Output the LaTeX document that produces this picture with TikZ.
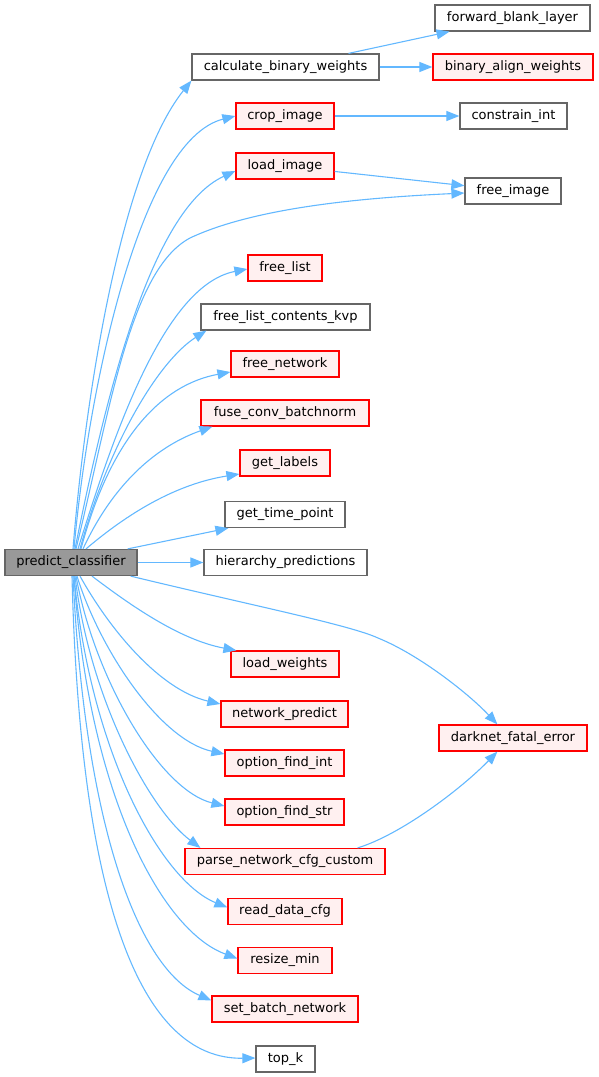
\documentclass[tikz,border=0pt]{standalone}
\usepackage{fontspec}
\setmainfont{DejaVu Sans}
\usetikzlibrary{arrows.meta,calc}
\definecolor{edgec}{HTML}{63B8FF}
\definecolor{nodegray}{HTML}{666666}
\definecolor{maingray}{HTML}{999999}
\definecolor{redfill}{HTML}{FFF0F0}
\definecolor{redline}{HTML}{FF0000}
\begin{document}
\begin{tikzpicture}[x=1pt,y=-1pt,
  box/.style={draw=nodegray, fill=white, line width=1.2pt, minimum height=26pt, inner sep=0pt, font=\fontsize{13}{15}\selectfont},
  redbox/.style={box, draw=redline, fill=redfill},
  mainbox/.style={box, fill=maingray},
  edge/.style={draw=edgec, line width=1.1pt, -{Triangle[length=13pt,width=10pt]}}]
\useasboundingbox (0,0) rectangle (599,1077);
% nodes
\node[mainbox, minimum width=132pt] (pc) at (71,562.5) {predict\_classifier};
\node[box, minimum width=187pt] (calc) at (285.5,67) {calculate\_binary\_weights};
\node[box, minimum width=155pt] (fbl) at (512.5,18) {forward\_blank\_layer};
\node[redbox, minimum width=160pt] (baw) at (513,67) {binary\_align\_weights};
\node[redbox, minimum width=98pt] (crop) at (285,116) {crop\_image};
\node[box, minimum width=107pt] (ci) at (513.5,116) {constrain\_int};
\node[redbox, minimum width=98pt] (load) at (285,166) {load\_image};
\node[box, minimum width=96pt] (fi) at (513,191) {free\_image};
\node[redbox, minimum width=74pt] (fl) at (285,268) {free\_list};
\node[box, minimum width=169pt] (flck) at (285.5,317) {free\_list\_contents\_kvp};
\node[redbox, minimum width=108pt] (fn) at (285,364) {free\_network};
\node[redbox, minimum width=168pt] (fcb) at (285,413) {fuse\_conv\_batchnorm};
\node[redbox, minimum width=90pt] (gl) at (285,463) {get\_labels};
\node[box, minimum width=120pt] (gtp) at (285,514.5) {get\_time\_point};
\node[box, minimum width=163pt] (hp) at (285.5,562.5) {hierarchy\_predictions};
\node[redbox, minimum width=108pt] (lw) at (285,664) {load\_weights};
\node[redbox, minimum width=127pt] (np) at (284.5,714) {network\_predict};
\node[redbox, minimum width=119pt] (ofi) at (284.5,763) {option\_find\_int};
\node[redbox, minimum width=119pt] (ofs) at (284.5,812) {option\_find\_str};
\node[redbox, minimum width=200pt] (pncc) at (285,861.5) {parse\_network\_cfg\_custom};
\node[redbox, minimum width=148pt] (dfe) at (513,738) {darknet\_fatal\_error};
\node[redbox, minimum width=114pt] (rdc) at (285,911.5) {read\_data\_cfg};
\node[redbox, minimum width=94pt] (rm) at (285,960.5) {resize\_min};
\node[redbox, minimum width=146pt] (sbn) at (285,1009) {set\_batch\_network};
\node[box, minimum width=59pt] (topk) at (285.5,1059) {top\_k};
% edges upward
\draw[edge] ($(pc.north)+(2,0)$) .. controls (85,400) and (120,170) .. (calc.south west);
\draw[edge] ($(pc.north)+(3,0)$) .. controls (88,390) and (140,140) .. (crop.west);
\draw[edge] ($(pc.north)+(4,0)$) .. controls (105,400) and (150,210) .. ($(load.west)+(0,5)$);
\draw[edge] ($(pc.north)+(5,0)$) .. controls (110,410) and (130,270) .. (190,238) .. controls (260,205) and (380,197) .. ($(fi.west)+(0,2)$);
\draw[edge] ($(pc.north)+(7,0)$) .. controls (115,430) and (165,285) .. ($(fl.west)+(0,1)$);
\draw[edge] ($(pc.north)+(9,0)$) .. controls (110,440) and (160,360) .. ($(flck.south west)+(6,0)$);
\draw[edge] ($(pc.north)+(10,0)$) .. controls (110,440) and (160,385) .. ($(fn.west)+(0,8)$);
\draw[edge] ($(pc.north)+(12,0)$) .. controls (115,480) and (160,445) .. ($(fcb.south west)+(12,0)$);
\draw[edge] ($(pc.north)+(15,0)$) .. controls (120,520) and (170,485) .. ($(gl.west)+(0,11)$);
\draw[edge] ($(pc.north east)+(-10,0)$) -- ($(gtp.south west)+(4,0)$);
\draw[edge] (pc) -- (hp);
% edges downward
\draw[edge] ($(pc.south east)+(-7,0)$) .. controls (250,605) and (350,625) .. (378,638) .. controls (420,655) and (470,695) .. ($(dfe.north west)+(59,0)$);
\draw[edge] ($(pc.south)+(21,0)$) .. controls (130,605) and (180,640) .. ($(lw.north west)+(6,0)$);
\draw[edge] ($(pc.south)+(9,0)$) .. controls (110,630) and (160,690) .. ($(np.west)+(0,-10)$);
\draw[edge] ($(pc.south)+(6,0)$) .. controls (100,650) and (160,740) .. ($(ofi.west)+(0,-9)$);
\draw[edge] ($(pc.south)+(5,0)$) .. controls (95,680) and (160,790) .. ($(ofs.west)+(0,-6)$);
\draw[edge] ($(pc.south)+(4,0)$) .. controls (90,700) and (150,810) .. ($(pncc.north west)+(16,0)$);
\draw[edge] ($(pc.south)+(3,0)$) .. controls (90,750) and (160,880) .. ($(rdc.west)+(0,-4)$);
\draw[edge] ($(pc.south)+(3,0)$) .. controls (88,790) and (160,930) .. ($(rm.west)+(0,-2)$);
\draw[edge] ($(pc.south)+(2,0)$) .. controls (85,830) and (140,970) .. ($(sbn.north west)+(0,5)$);
\draw[edge] ($(pc.south)+(1,0)$) .. controls (80,900) and (140,1060) .. ($(topk.west)+(0,-1)$);
% right side
\draw[edge] (calc) -- (fbl);
\draw[edge] (calc) -- (baw);
\draw[edge] (crop) -- (ci);
\draw[edge] (load) -- (fi);
\draw[edge] ($(pncc.north east)+(-28,0)$) .. controls (400,835) and (460,790) .. ($(dfe.south west)+(59,0)$);
\end{tikzpicture}
\end{document}
